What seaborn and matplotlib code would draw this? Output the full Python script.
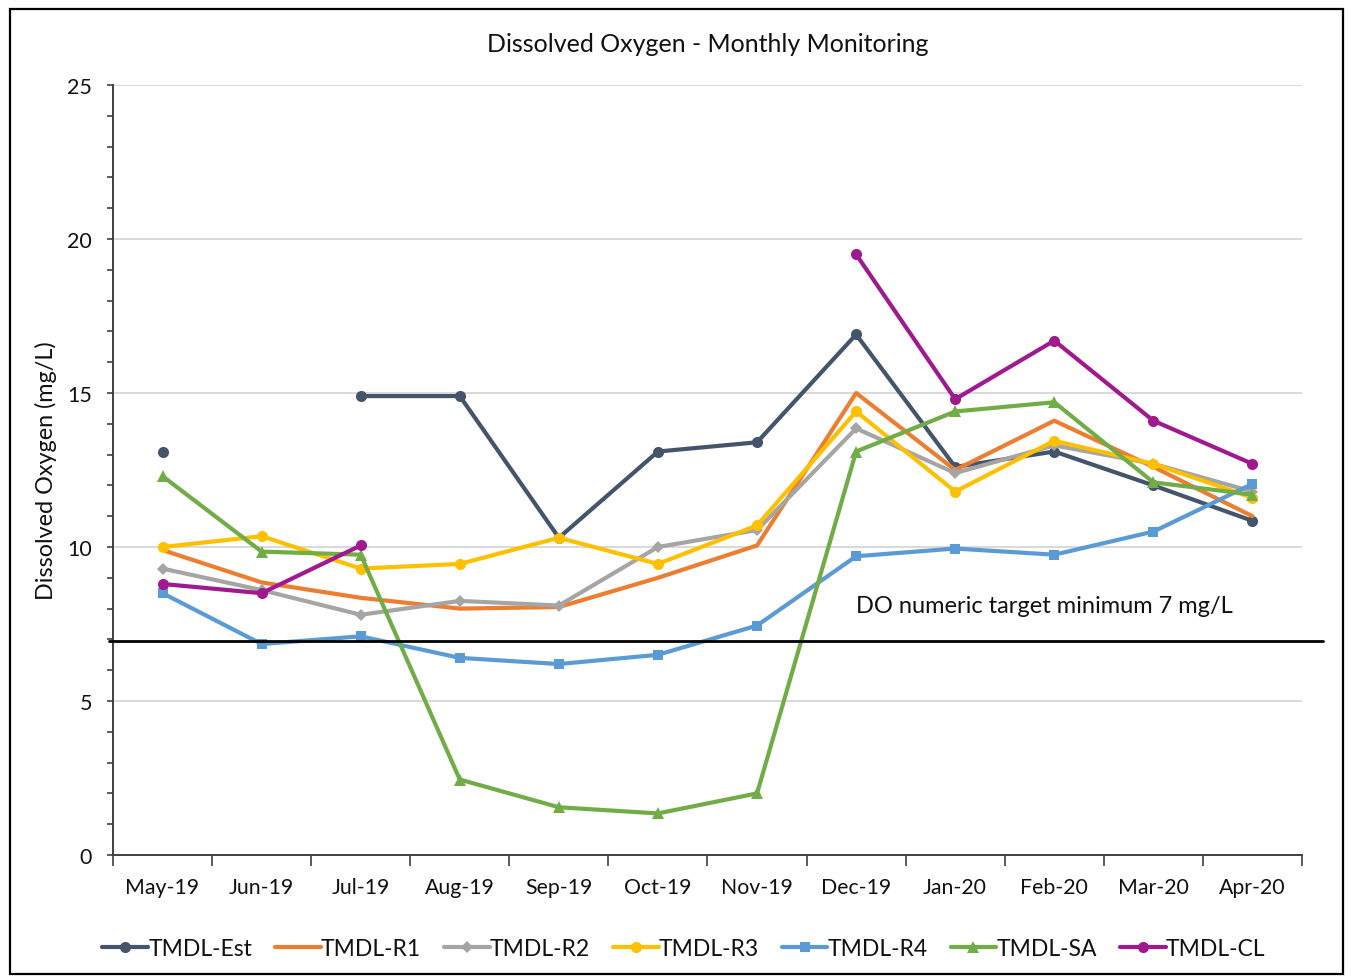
import numpy as np
import pandas as pd
import matplotlib
matplotlib.use("Agg")
import matplotlib.pyplot as plt
import seaborn as sns
from matplotlib.lines import Line2D
from matplotlib.patches import Rectangle

months = ["May-19", "Jun-19", "Jul-19", "Aug-19", "Sep-19", "Oct-19",
          "Nov-19", "Dec-19", "Jan-20", "Feb-20", "Mar-20", "Apr-20"]
nan = np.nan
tmdl_est = [13.1, nan, 14.9, 14.9, 10.3, 13.1, 13.4, 16.9, 12.6, 13.1, 12.0, 10.85]
tmdl_r1 = [9.9, 8.85, 8.35, 8.0, 8.05, 9.0, 10.05, 15.0, 12.5, 14.1, 12.6, 11.0]
tmdl_r2 = [9.3, 8.6, 7.8, 8.25, 8.1, 10.0, 10.55, 13.85, 12.4, 13.3, 12.7, 11.8]
tmdl_r3 = [10.0, 10.35, 9.3, 9.45, 10.3, 9.45, 10.7, 14.4, 11.8, 13.45, 12.7, 11.6]
tmdl_r4 = [8.5, 6.85, 7.1, 6.4, 6.2, 6.5, 7.45, 9.7, 9.95, 9.75, 10.5, 12.05]
tmdl_sa = [12.3, 9.85, 9.75, 2.45, 1.55, 1.35, 2.0, 13.1, 14.4, 14.7, 12.1, 11.7]
tmdl_cl = [8.8, 8.5, 10.05, nan, nan, nan, nan, 19.5, 14.8, 16.7, 14.1, 12.7]

series_names = ["TMDL-Est", "TMDL-R1", "TMDL-R2", "TMDL-R3", "TMDL-R4", "TMDL-SA", "TMDL-CL"]
series_values = [tmdl_est, tmdl_r1, tmdl_r2, tmdl_r3, tmdl_r4, tmdl_sa, tmdl_cl]
colors = ["#44546A", "#ED7D31", "#A5A5A5", "#FFC000", "#5B9BD5", "#70AD47", "#A0198F"]
markers = ["o", None, "D", "o", "s", "^", "o"]
msizes = [8, 0, 6, 8, 7.5, 8, 8]

target = 6.95
y_ticks = [0, 5, 10, 15, 20, 25]

sns.set_style("white")
plt.rcParams["font.family"] = ["Lato", "DejaVu Sans"]
text_col = "#111111"

fig = plt.figure(figsize=(13.54, 9.78), dpi=100)
ax = fig.add_axes([113 / 1354, 1 - 856 / 978, (1302 - 113) / 1354, (856 - 86) / 978])

xpos = np.arange(len(months))
for name, vals, c, m, ms in zip(series_names, series_values, colors, markers, msizes):
    vals = np.asarray(vals, dtype=float)
    # split into contiguous segments so gaps stay gaps
    segs = []
    cur = []
    for i, v in enumerate(vals):
        if np.isnan(v):
            if cur:
                segs.append(cur)
            cur = []
        else:
            cur.append(i)
    if cur:
        segs.append(cur)
    for seg in segs:
        df = pd.DataFrame({"x": xpos[seg], "y": vals[seg]})
        sns.lineplot(data=df, x="x", y="y", ax=ax, color=c, linewidth=3.0,
                     marker=m if m else "", markersize=ms, markeredgewidth=0,
                     markeredgecolor=c, legend=False, sort=False)

ax.set_xlim(-0.5, len(months) - 0.5)
ax.set_ylim(0, 25)
ax.set_yticks(y_ticks)
ax.set_yticks(np.arange(0, 26, 1), minor=True)
ax.tick_params(axis="y", which="both", direction="out", length=4, width=1.2,
               color="#404040", left=True, labelsize=15.5, labelcolor=text_col, pad=11)
ax.grid(axis="y", which="major", color="#D0D0D0", linewidth=1.1)
ax.set_axisbelow(True)

# x: ticks at category boundaries, labels centered
ax.set_xticks(np.arange(-0.5, len(months), 1.0))
ax.set_xticklabels([])
ax.set_xticks(xpos, minor=True)
ax.set_xticklabels(months, minor=True)
ax.tick_params(axis="x", which="major", direction="out", length=8, width=1.2,
               color="#404040", bottom=True)
ax.tick_params(axis="x", which="minor", length=0, labelsize=15.3,
               labelcolor=text_col, pad=16)

for s in ["top", "right"]:
    ax.spines[s].set_visible(False)
for s in ["left", "bottom"]:
    ax.spines[s].set_color("#404040")
    ax.spines[s].set_linewidth(1.4)

ax.set_xlabel("")
ax.set_ylabel("Dissolved Oxygen (mg/L)", fontsize=16.8, color=text_col)
ax.yaxis.set_label_coords(-0.047, 0.5)

# target line extending a bit beyond plot area
trans = matplotlib.transforms.blended_transform_factory(ax.transAxes, ax.transData)
ax.plot([-0.003, 1.0177], [target, target], color="black", linewidth=2.0,
        transform=trans, clip_on=False, zorder=5)
ax.text(7.0, 8.1, "DO numeric target minimum 7 mg/L", fontsize=17,
        color=text_col, va="center", ha="left")

fig.text(0.5 * (113 + 1302) / 1354, 1 - 44 / 978, "Dissolved Oxygen - Monthly Monitoring",
         ha="center", va="center", fontsize=18, color=text_col)

handles = [Line2D([0], [0], color=c, linewidth=3.0, marker=m if m else "",
                  markersize=ms, markeredgewidth=0)
           for c, m, ms in zip(colors, markers, msizes)]
fig.legend(handles, series_names, loc="center", bbox_to_anchor=(0.505, 1 - 950 / 978),
           ncol=7, frameon=False, fontsize=16.5, handlelength=2.0, handletextpad=0.0,
           columnspacing=1.0, labelcolor=text_col)

fig.patches.append(Rectangle((10 / 1354, 1 - 975 / 978), (1343 - 10) / 1354, (975 - 10) / 978,
                             transform=fig.transFigure, fill=False, edgecolor="black",
                             linewidth=1.6))

fig.savefig("out.png", dpi=100)
